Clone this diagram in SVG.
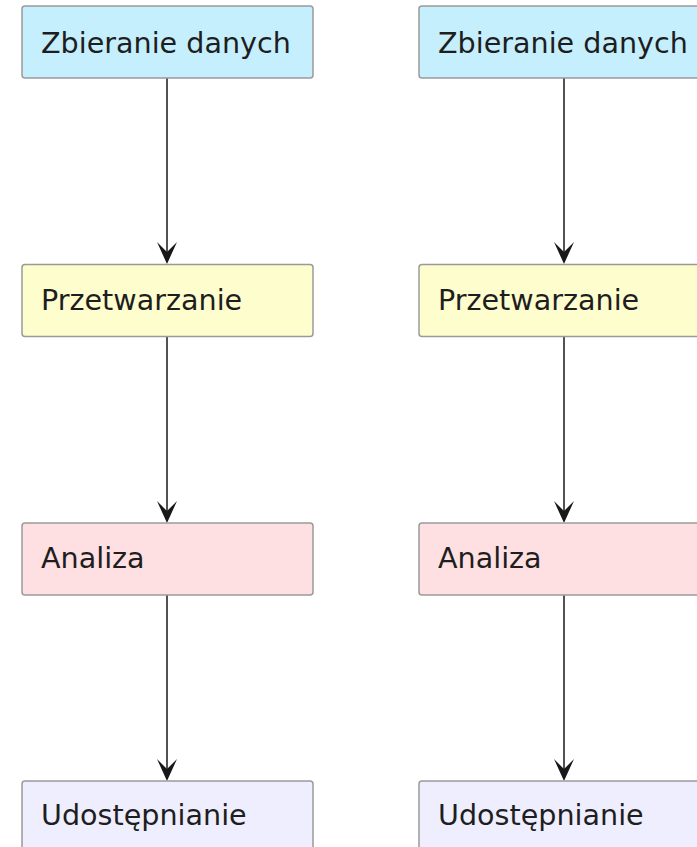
<svg xmlns="http://www.w3.org/2000/svg" width="697" height="847" viewBox="0 0 697 847">
<style>
.box{stroke:#9a9a9a;stroke-width:1.5}
.lbl{font-family:"DejaVu Sans",sans-serif;font-size:28.6px;fill:#1e1e1e}
.c1{fill:#C5EFFD}.c2{fill:#FEFDCE}.c3{fill:#FEE0E2}.c4{fill:#EEEEFE}
.edge{stroke:#181818;stroke-width:1.5;fill:none}
.head{fill:#181818}
</style>
<defs>
<path id="ah" d="M0,0 L-10,-22 L0,-12 L10,-22 Z"/>
</defs>
<rect width="697" height="847" fill="#ffffff"/>
<g id="connectors">
<line class="edge" x1="167" y1="78" x2="167" y2="262"/>
<use href="#ah" class="head" x="167" y="264"/>
<line class="edge" x1="167" y1="336" x2="167" y2="521"/>
<use href="#ah" class="head" x="167" y="523"/>
<line class="edge" x1="167" y1="595" x2="167" y2="779"/>
<use href="#ah" class="head" x="167" y="781"/>
<line class="edge" x1="564" y1="78" x2="564" y2="262"/>
<use href="#ah" class="head" x="564" y="264"/>
<line class="edge" x1="564" y1="336" x2="564" y2="521"/>
<use href="#ah" class="head" x="564" y="523"/>
<line class="edge" x1="564" y1="595" x2="564" y2="779"/>
<use href="#ah" class="head" x="564" y="781"/>
</g>
<g id="L1"><rect class="box c1" x="22" y="6" width="291" height="72" rx="3"/><text class="lbl" x="41" y="52.5">Zbieranie danych</text></g>
<g id="L2"><rect class="box c2" x="22" y="264.5" width="291" height="72" rx="3"/><text class="lbl" x="41" y="310">Przetwarzanie</text></g>
<g id="L3"><rect class="box c3" x="22" y="523" width="291" height="72" rx="3"/><text class="lbl" x="41" y="567.5">Analiza</text></g>
<g id="L4"><rect class="box c4" x="22" y="781" width="291" height="72" rx="3"/><text class="lbl" x="41" y="825">Udostępnianie</text></g>
<g id="R1"><rect class="box c1" x="419" y="6" width="291" height="72" rx="3"/><text class="lbl" x="438" y="52.5">Zbieranie danych</text></g>
<g id="R2"><rect class="box c2" x="419" y="264.5" width="291" height="72" rx="3"/><text class="lbl" x="438" y="310">Przetwarzanie</text></g>
<g id="R3"><rect class="box c3" x="419" y="523" width="291" height="72" rx="3"/><text class="lbl" x="438" y="567.5">Analiza</text></g>
<g id="R4"><rect class="box c4" x="419" y="781" width="291" height="72" rx="3"/><text class="lbl" x="438" y="825">Udostępnianie</text></g>
</svg>
